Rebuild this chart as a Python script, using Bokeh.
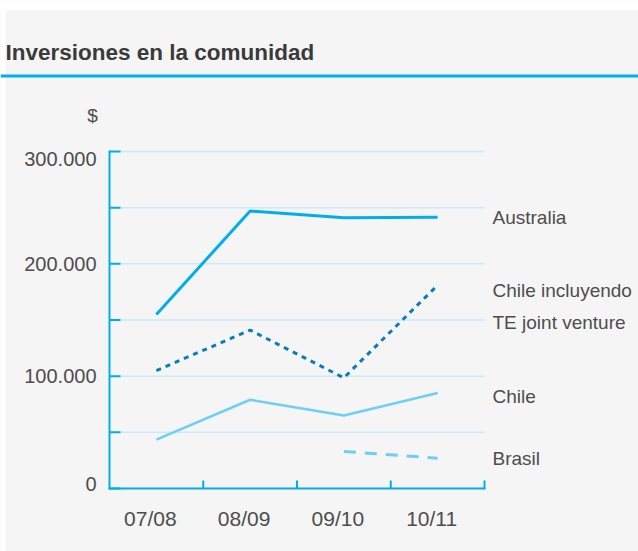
import math
from bokeh.plotting import figure
from bokeh.models import Range1d, Grid, Label, Span, BoxAnnotation
from bokeh.embed import file_html
from bokeh.resources import INLINE

# ---------------- data ----------------
periods = ["07/08", "08/09", "09/10", "10/11"]
australia = [155000, 247000, 241000, 241500]
chile_te = [105000, 141000, 98500, 181000]
chile = [43500, 79000, 65000, 85000]
brasil_periods = ["09/10", "10/11"]
brasil = [33000, 27000]
y_ticks = [0, 50000, 100000, 150000, 200000, 250000, 300000]
y_tick_labels = ["0", "100.000", "200.000", "300.000"]
y_tick_label_values = [0, 100000, 200000, 300000]
series_names = ["Australia", "Chile incluyendo", "TE joint venture", "Chile", "Brasil"]
title_text = "Inversiones en la comunidad"

FONT = "Liberation Sans"
TXT = "#4d4d4d"
BG = "#f5f5f5"
BLUE = "#00aeef"
DARK = "#0a7db8"
LIGHT = "#6dcff6"
GRID = "#cce9f7"

# figure size and where the plotting area sits inside it (pixels)
W, H = 638, 551
BL, BR, BT, BB = 109, 154, 151, 63
YMAX = 300000
NX = len(periods)
xpp = NX / (W - BL - BR)
ypp = YMAX / (H - BT - BB)

p = figure(width=W, height=H,
           x_range=Range1d(-BL * xpp, NX + BR * xpp),
           y_range=Range1d(-BB * ypp, YMAX + BT * ypp),
           min_border=0, x_axis_location=None, y_axis_location=None,
           toolbar_location=None, output_backend="svg")
p.background_fill_color = BG
p.border_fill_color = BG
p.outline_line_color = None
p.center = [c for c in p.center if not isinstance(c, Grid)]

# white page margin of the original panel
p.add_layout(BoxAnnotation(bottom=YMAX + (BT - 10) * ypp, fill_color="white", fill_alpha=1,
                           line_color=None))
p.add_layout(BoxAnnotation(right=-(BL - 5) * xpp, fill_color="white", fill_alpha=1,
                           line_color=None))

# horizontal grid lines limited to the plotting area
p.segment(x0=[0] * len(y_ticks), x1=[NX] * len(y_ticks), y0=y_ticks, y1=y_ticks,
          line_color=GRID, line_width=1.5)

# axes: lines and inward ticks
p.segment(x0=[0, 0], y0=[0, 0], x1=[0, NX], y1=[YMAX, 0], line_color=BLUE, line_width=2,
          line_cap="square")
p.ray(x=[0] * len(y_ticks), y=y_ticks, length=11, angle=0, length_units="screen",
      line_color=BLUE, line_width=2)
x_bounds = list(range(1, NX + 1))
p.ray(x=x_bounds, y=[0] * len(x_bounds), length=8, angle=math.pi / 2, length_units="screen",
      line_color=BLUE, line_width=2)

xs = [i + 0.5 for i in range(NX)]
xb = [periods.index(c) + 0.5 for c in brasil_periods]

p.line(xs, australia, line_color=BLUE, line_width=3)
p.line(xs, chile_te, line_color=DARK, line_width=3, line_dash="5 5")
p.line(xs, chile, line_color=LIGHT, line_width=2.5)
p.line(xb, brasil, line_color=LIGHT, line_width=3, line_dash="12 9")


def lab(x, y, text, dx, dy, align, size="19px", **kw):
    p.add_layout(Label(x=x, y=y, text=text, x_offset=dx, y_offset=dy, text_align=align,
                       text_baseline="middle", text_font=FONT, text_font_size=size,
                       text_color=TXT, **kw))


# header: title and full-width rule
p.add_layout(Label(x=0, y=YMAX, x_offset=-(BL - 5), y_offset=99, text=title_text,
                   text_font=FONT, text_font_size="22.5px", text_font_style="bold",
                   text_color="#3a3a3a", text_baseline="alphabetic", text_align="left"))
p.add_layout(Span(location=YMAX + 75.5 * ypp, dimension="width", line_color=BLUE,
                  line_width=3))

# y tick labels
for v, t, dy in zip(y_tick_label_values, y_tick_labels, [5, 0, 0, -7]):
    lab(0, v, t, -13, dy, "right", size="20px")
# x labels
for x, t in zip(xs, periods):
    lab(x, 0, t, -6, -30, "center", size="21px")
# "$"
lab(0, YMAX, "$", -17, 36, "center")
# series labels
series_last = [australia[-1], chile_te[-1], chile_te[-1], chile[-1], brasil[-1]]
for t, v, dy in zip(series_names, series_last, [0, -5, -37, -3, 0]):
    lab(NX, v, t, 8, dy, "left")

open("out.html", "w").write(file_html(p, INLINE))
